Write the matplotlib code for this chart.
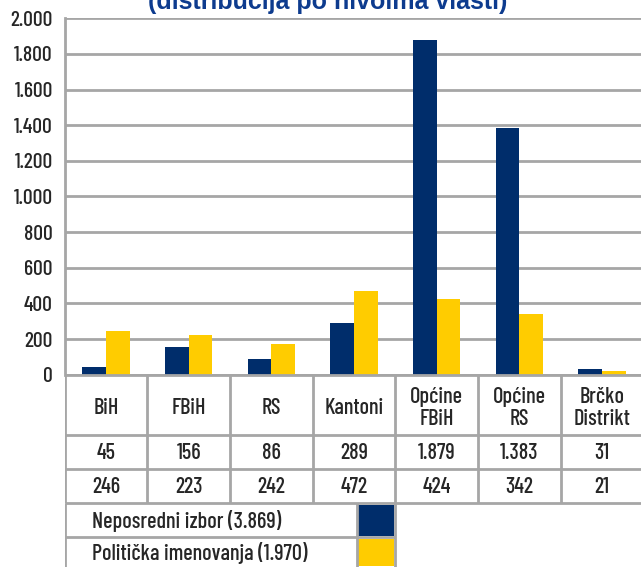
import numpy as np
import matplotlib.pyplot as plt
from matplotlib import font_manager

# data
kategorije = ['BiH', 'FBiH', 'RS', 'Kantoni', 'Općine\nFBiH', 'Općine\nRS', 'Brčko\nDistrikt']
neposredni = [45, 156, 86, 289, 1879, 1383, 31]
imenovanja = [246, 223, 170, 472, 424, 342, 21]
tab_neposredni = ['45', '156', '86', '289', '1.879', '1.383', '31']
tab_imenovanja = ['246', '223', '242', '472', '424', '342', '21']
legenda = ['Neposredni izbor (3.869)', 'Politička imenovanja (1.970)']
y_ticks = [0, 200, 400, 600, 800, 1000, 1200, 1400, 1600, 1800, 2000]

BLUE = '#002D6B'
YELLOW = '#FFCC00'
GRID = '#A6A6A6'

# narrow font if there is one, otherwise DejaVu
names = set(f.name for f in font_manager.fontManager.ttflist)
fam = 'DejaVu Sans'
for cand in ['Barlow Condensed', 'Roboto Condensed', 'PT Sans Narrow', 'Archivo Narrow', 'Liberation Sans Narrow']:
    if cand in names:
        fam = cand
        break
plt.rcParams['font.family'] = [fam, 'DejaVu Sans']
narrow = fam != 'DejaVu Sans'
fs = 16 if narrow else 10.5
tfs = 15.5 if narrow else 10.5
fw = 500

W, H = 641, 567
fig = plt.figure(figsize=(W / 100, H / 100), dpi=100)

# chart area in pixel coordinates
x0, x1 = 64.6, 643.5
ytop, ybot = 18.3, 374.7
ax = fig.add_axes([x0 / W, 1 - ybot / H, (x1 - x0) / W, (ybot - ytop) / H])

x = np.arange(len(kategorije))
bw = 0.287
ax.bar(x - bw / 2, neposredni, bw, color=BLUE, zorder=3)
ax.bar(x + bw / 2, imenovanja, bw, color=YELLOW, zorder=3)

ax.set_xlim(-0.5, 6.5)
ax.set_ylim(0, 2000)
ax.set_yticks(y_ticks)
ax.set_yticklabels([f'{v:,}'.replace(',', '.') for v in y_ticks], fontweight=fw)
ax.tick_params(axis='y', length=0, pad=8.5, labelsize=tfs, labelcolor='#262626')
ax.set_xticks([])
ax.grid(axis='y', color=GRID, lw=2, zorder=0)
for s in ['top', 'right', 'bottom']:
    ax.spines[s].set_visible(False)
ax.spines['left'].set_color(GRID)
ax.spines['left'].set_linewidth(2)
ax.axhline(0, color=GRID, lw=2, zorder=4)

# data table below the chart
tax = fig.add_axes([x0 / W, 0, (x1 - x0) / W, (H - ybot) / H])
tax.set_xlim(-0.5, 6.5)
tax.set_ylim(H, ybot)
tax.axis('off')

rows = [ybot, 435, 469, 503, 537, H]
lc = dict(color=GRID, lw=2, solid_capstyle='butt')
for r in rows[:4]:
    tax.plot([-0.5, 6.5], [r, r], **lc)
for i in range(8):
    tax.plot([i - 0.5, i - 0.5], [rows[0], rows[3]], **lc)

tc = '#262626'
for i, k in enumerate(kategorije):
    tax.text(i, (rows[0] + rows[1]) / 2 + 3, k, ha='center', va='center', fontsize=fs,
             fontweight=fw, linespacing=1.1, color=tc)
    tax.text(i, (rows[1] + rows[2]) / 2 + 1, tab_neposredni[i], ha='center', va='center',
             fontsize=fs, fontweight=fw, color=tc)
    tax.text(i, (rows[2] + rows[3]) / 2 + 1, tab_imenovanja[i], ha='center', va='center',
             fontsize=fs, fontweight=fw, color=tc)

# legend rows
xsplit = 3.03
tax.plot([-0.5, -0.5], [rows[3], H], **lc)
tax.plot([xsplit, xsplit], [rows[3], H], **lc)
tax.plot([3.5, 3.5], [rows[3], H], **lc)
tax.plot([-0.5, 3.5], [rows[4], rows[4]], **lc)
for j, (lab, col) in enumerate(zip(legenda, [BLUE, YELLOW])):
    ya, yb = rows[3 + j], rows[4 + j]
    tax.text(-0.165, (ya + yb) / 2 + 1, lab, ha='left', va='center', fontsize=fs,
             fontweight=fw, color=tc)
    tax.fill_between([xsplit + 0.02, 3.48], ya + 1.5, yb - 1.5, color=col, lw=0)

fig.text(327.5 / W, 1 - 9 / H, '(distribucija po nivoima vlasti)', ha='center', va='baseline',
         fontsize=18, fontweight='bold', color='#0D3B8E', family=['Liberation Sans', 'DejaVu Sans'])

fig.savefig('out.png', dpi=100)
